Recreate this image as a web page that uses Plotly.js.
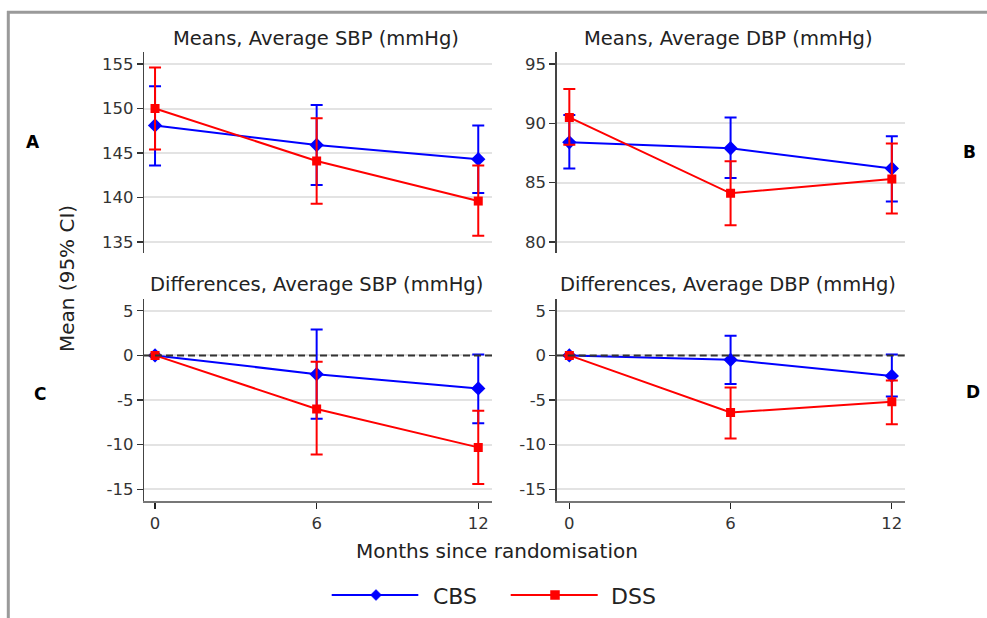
<!DOCTYPE html>
<html>
<head>
<meta charset="utf-8">
<script src="https://cdn.plot.ly/plotly-3.0.1.min.js"></script>
<style>html,body{margin:0;padding:0;background:#fff;}#chart{width:987px;height:618px;}</style>
</head>
<body>
<div id="chart"></div>
<script>
// ---- data ----
var months = [0, 6, 12];
var seriesNames = ['CBS', 'DSS'];

var sbpMeanCBS = [148.1, 145.9, 144.3];
var sbpLowCBS  = [143.6, 141.4, 140.5];
var sbpHighCBS = [152.5, 150.4, 148.1];
var sbpMeanDSS = [150.0, 144.1, 139.6];
var sbpLowDSS  = [145.4, 139.3, 135.7];
var sbpHighDSS = [154.6, 148.9, 143.6];

var dbpMeanCBS = [88.4, 87.9, 86.2];
var dbpLowCBS  = [86.2, 85.4, 83.4];
var dbpHighCBS = [90.7, 90.5, 88.9];
var dbpMeanDSS = [90.5, 84.1, 85.3];
var dbpLowDSS  = [88.2, 81.4, 82.4];
var dbpHighDSS = [92.9, 86.8, 88.3];

var sbpDiffCBS     = [0, -2.1, -3.7];
var sbpDiffLowCBS  = [null, -7.1, -7.6];
var sbpDiffHighCBS = [null, 2.9, 0.1];
var sbpDiffDSS     = [0, -6.0, -10.3];
var sbpDiffLowDSS  = [null, -11.1, -14.4];
var sbpDiffHighDSS = [null, -0.7, -6.2];

var dbpDiffCBS     = [0, -0.5, -2.3];
var dbpDiffLowCBS  = [null, -3.2, -4.6];
var dbpDiffHighCBS = [null, 2.2, 0.1];
var dbpDiffDSS     = [0, -6.4, -5.2];
var dbpDiffLowDSS  = [null, -9.3, -7.7];
var dbpDiffHighDSS = [null, -3.6, -2.8];

var panelTitles = ['Means, Average SBP (mmHg)', 'Means, Average DBP (mmHg)',
                   'Differences, Average SBP (mmHg)', 'Differences, Average DBP (mmHg)'];
var panelLetters = ['A', 'B', 'C', 'D'];
var xTicks = [0, 6, 12];
var sbpTicks = [135, 140, 145, 150, 155];
var dbpTicks = [80, 85, 90, 95];
var diffTicks = [-15, -10, -5, 0, 5];
var diffTickText = ['-15', '-10', '-5', '0', '5'];

// ---- styling ----
var FONT = 'DejaVu Sans, Arial, sans-serif';
var BLUE = '#0000ff', RED = '#ff0000';
var W = 987, H = 618;
function px(x) { return x / W; }
function py(y) { return 1 - y / H; }

function errPlus(mean, high) { return mean.map(function (m, i) { return high[i] == null ? null : high[i] - m; }); }
function errMinus(mean, low) { return mean.map(function (m, i) { return low[i] == null ? null : m - low[i]; }); }

function trace(mean, low, high, color, symbol, size, xa, ya, name) {
  return {
    type: 'scatter', mode: 'lines+markers', name: name,
    x: months, y: mean, xaxis: xa, yaxis: ya, showlegend: false,
    line: { color: color, width: 2 },
    marker: { color: color, symbol: symbol, size: size },
    error_y: { type: 'data', symmetric: false, array: errPlus(mean, high),
               arrayminus: errMinus(mean, low), color: color, thickness: 2, width: 6 },
    hoverinfo: 'x+y'
  };
}

var data = [
  trace(sbpMeanCBS, sbpLowCBS, sbpHighCBS, BLUE, 'diamond', 11, 'x', 'y', seriesNames[0]),
  trace(sbpMeanDSS, sbpLowDSS, sbpHighDSS, RED, 'square', 9, 'x', 'y', seriesNames[1]),
  trace(dbpMeanCBS, dbpLowCBS, dbpHighCBS, BLUE, 'diamond', 11, 'x2', 'y2', seriesNames[0]),
  trace(dbpMeanDSS, dbpLowDSS, dbpHighDSS, RED, 'square', 9, 'x2', 'y2', seriesNames[1]),
  trace(sbpDiffCBS, sbpDiffLowCBS, sbpDiffHighCBS, BLUE, 'diamond', 11, 'x3', 'y3', seriesNames[0]),
  trace(sbpDiffDSS, sbpDiffLowDSS, sbpDiffHighDSS, RED, 'square', 9, 'x3', 'y3', seriesNames[1]),
  trace(dbpDiffCBS, dbpDiffLowCBS, dbpDiffHighCBS, BLUE, 'diamond', 11, 'x4', 'y4', seriesNames[0]),
  trace(dbpDiffDSS, dbpDiffLowDSS, dbpDiffHighDSS, RED, 'square', 9, 'x4', 'y4', seriesNames[1])
];

var leftDom = [px(144), px(492)];
var rightDom = [px(556.7), px(905)];
var topDom = [py(253), py(52)];
var botDom = [py(500.7), py(299.3)];

function xTop(dom, range, anchor) {
  return { domain: dom, range: range, anchor: anchor, showline: false, showgrid: false,
           zeroline: false, showticklabels: false, ticks: '', fixedrange: true };
}
function xBot(dom, range, anchor) {
  return { domain: dom, range: range, anchor: anchor, showline: true, linecolor: '#777', linewidth: 2.5,
           showgrid: false, zeroline: false, tickvals: xTicks, ticks: 'outside', ticklen: 6,
           tickcolor: '#222', tickwidth: 1.3, tickfont: { family: FONT, size: 16.5, color: '#333' } };
}
function yAx(dom, range, anchor, vals, text) {
  var a = { domain: dom, range: range, anchor: anchor, showline: true, linecolor: '#444', linewidth: 1.3,
            showgrid: true, gridcolor: '#e3e3e3', gridwidth: 2, zeroline: false,
            tickvals: vals, ticks: 'outside', ticklen: 6, tickcolor: '#333', tickwidth: 1.3,
            tickfont: { family: FONT, size: 16.5, color: '#333' } };
  if (text) a.ticktext = text;
  return a;
}

var annotations = [];
function ann(text, x, y, size, opts) {
  var a = { text: text, x: px(x), y: py(y), xref: 'paper', yref: 'paper', showarrow: false,
            xanchor: 'center', yanchor: 'middle', font: { family: FONT, size: size, color: '#222' } };
  for (var k in (opts || {})) a[k] = opts[k];
  annotations.push(a);
}
ann(panelTitles[0], 316, 38, 19.5);
ann(panelTitles[1], 728, 38, 19.5);
ann(panelTitles[2], 316, 284, 19.5);
ann(panelTitles[3], 728, 284, 19.5);
ann('<b>' + panelLetters[0] + '</b>', 32.5, 142, 17, { font: { family: FONT, size: 17, color: '#000' } });
ann('<b>' + panelLetters[1] + '</b>', 969, 152, 17, { font: { family: FONT, size: 17, color: '#000' } });
ann('<b>' + panelLetters[2] + '</b>', 40, 394, 17, { font: { family: FONT, size: 17, color: '#000' } });
ann('<b>' + panelLetters[3] + '</b>', 973, 392, 17, { font: { family: FONT, size: 17, color: '#000' } });
ann('Months since randomisation', 496.5, 551, 20);
ann('Mean (95% CI)', 66.5, 278.5, 20, { textangle: -90 });
ann(seriesNames[0], 431, 596, 22, { xanchor: 'left' });
ann(seriesNames[1], 609, 596, 22, { xanchor: 'left' });

var shapes = [
  // frame
  { type: 'line', xref: 'paper', yref: 'paper', x0: px(7), x1: 1, y0: py(12.3), y1: py(12.3),
    line: { color: '#9a9a9a', width: 3 } },
  { type: 'line', xref: 'paper', yref: 'paper', x0: px(8.3), x1: px(8.3), y0: py(11), y1: 0,
    line: { color: '#9a9a9a', width: 3 } },
  // zero reference lines
  { type: 'line', xref: 'x3 domain', yref: 'y3', x0: 0, x1: 1, y0: 0, y1: 0, layer: 'above',
    line: { color: '#333333', width: 2, dash: '7px,4px' } },
  { type: 'line', xref: 'x4 domain', yref: 'y4', x0: 0, x1: 1, y0: 0, y1: 0, layer: 'above',
    line: { color: '#333333', width: 2, dash: '7px,4px' } },
  // legend keys
  { type: 'line', xref: 'paper', yref: 'paper', x0: px(331.7), x1: px(418.3), y0: py(595), y1: py(595),
    line: { color: BLUE, width: 2 } },
  { type: 'path', xref: 'paper', yref: 'paper', xsizemode: 'pixel', ysizemode: 'pixel',
    xanchor: px(376), yanchor: py(595), path: 'M0,5.5 L5.5,0 L0,-5.5 L-5.5,0 Z',
    fillcolor: BLUE, line: { color: BLUE, width: 0.5 } },
  { type: 'line', xref: 'paper', yref: 'paper', x0: px(510.7), x1: px(597.7), y0: py(595), y1: py(595),
    line: { color: RED, width: 2 } },
  { type: 'path', xref: 'paper', yref: 'paper', xsizemode: 'pixel', ysizemode: 'pixel',
    xanchor: px(555), yanchor: py(595), path: 'M-4.5,-4.5 L4.5,-4.5 L4.5,4.5 L-4.5,4.5 Z',
    fillcolor: RED, line: { color: RED, width: 0.5 } }
];

var layout = {
  width: W, height: H, margin: { l: 0, r: 0, t: 0, b: 0 },
  paper_bgcolor: '#ffffff', plot_bgcolor: '#ffffff', showlegend: false,
  font: { family: FONT, color: '#222' },
  xaxis: xTop(leftDom, [-0.41, 12.51], 'y'),
  yaxis: yAx(topDom, [133.76, 156.35], 'x', sbpTicks),
  xaxis2: xTop(rightDom, [-0.47, 12.49], 'y2'),
  yaxis2: yAx(topDom, [79.07, 96.01], 'x2', dbpTicks),
  xaxis3: xBot(leftDom, [-0.41, 12.51], 'y3'),
  yaxis3: yAx(botDom, [-16.27, 6.28], 'x3', diffTicks, diffTickText),
  xaxis4: xBot(rightDom, [-0.47, 12.49], 'y4'),
  yaxis4: yAx(botDom, [-16.27, 6.28], 'x4', diffTicks, diffTickText),
  annotations: annotations,
  shapes: shapes
};

Plotly.newPlot('chart', data, layout, { displayModeBar: false, staticPlot: true });
</script>
</body>
</html>
